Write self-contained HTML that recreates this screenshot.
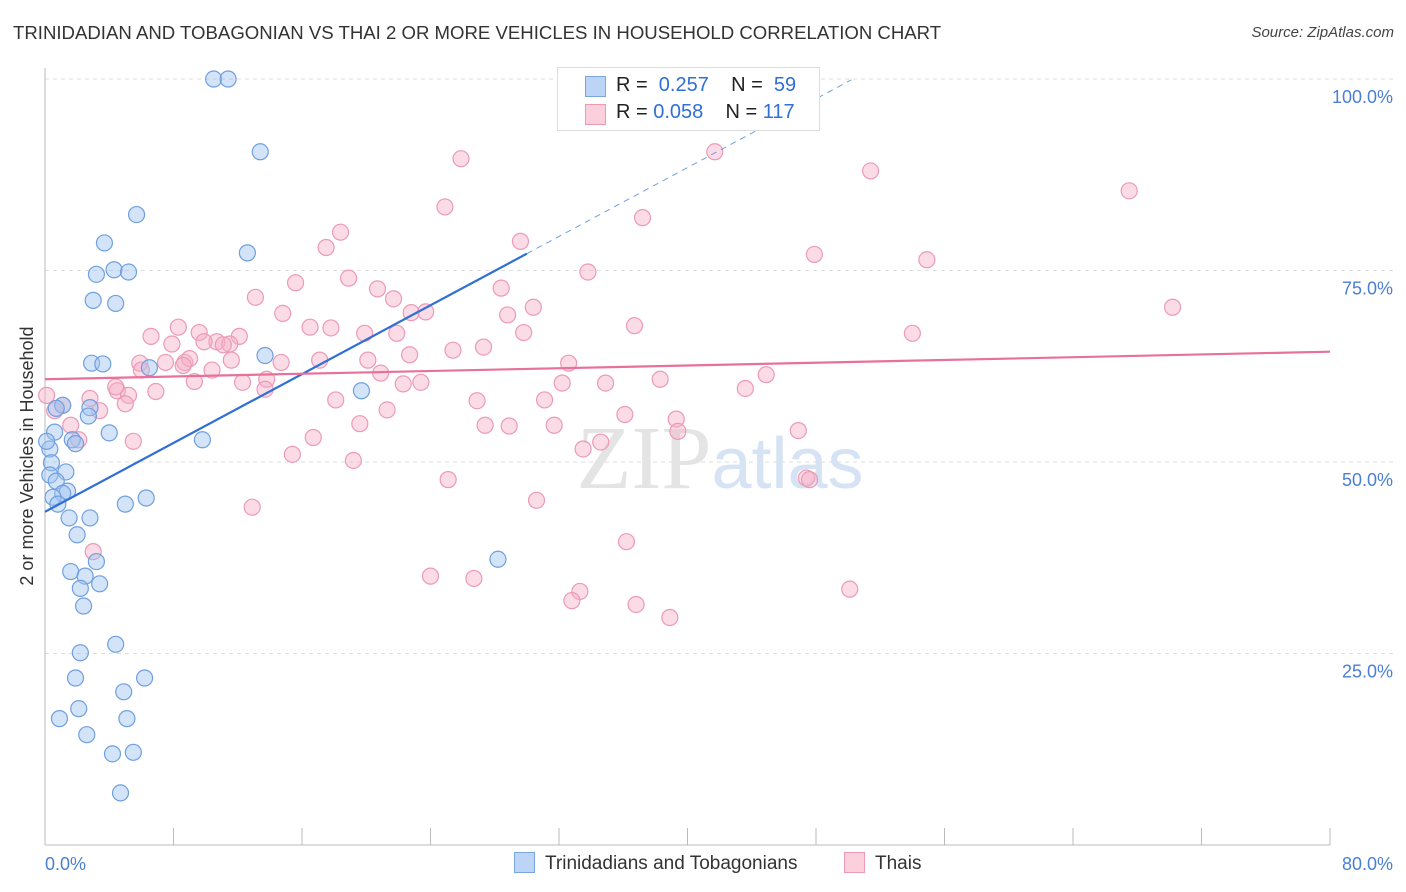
<!DOCTYPE html>
<html><head><meta charset="utf-8"><style>
body{margin:0;background:#fff;font-family:"Liberation Sans",sans-serif;}
#wrap{position:relative;width:1406px;height:892px;overflow:hidden;}
.t{position:absolute;white-space:nowrap;}
</style></head><body>
<div id="wrap">
<div class="t" style="left:13px;top:22px;font-size:18.6px;color:#333;">TRINIDADIAN AND TOBAGONIAN VS THAI 2 OR MORE VEHICLES IN HOUSEHOLD CORRELATION CHART</div>
<div class="t" style="right:12px;top:24px;font-size:15px;color:#444;font-style:italic;">Source: ZipAtlas.com</div>
<svg id="svg" width="1406" height="892" style="position:absolute;left:0;top:0"></svg>
</div>
<script>
const blueX=[10.5,11.4,13.4,5.7,12.6,3.7,4.3,5.2,3.2,3.0,4.4,13.7,2.9,3.6,6.5,19.7,2.8,1.1,0.7,2.7,4.0,0.6,1.7,1.9,9.8,0.3,0.4,1.3,0.3,0.7,1.4,1.1,0.5,6.3,5.0,0.8,1.5,2.8,2.0,28.2,3.2,1.6,2.5,3.4,2.2,2.4,4.4,2.2,1.9,6.2,4.9,2.1,0.9,5.1,2.6,4.2,5.5,4.7,0.1];
const blueY=[100,100,90.5,82.3,77.3,78.6,75.1,74.8,74.5,71.1,70.7,63.9,62.9,62.8,62.3,59.3,57.1,57.4,57.0,56.0,53.8,53.9,52.9,52.4,52.9,51.7,49.9,48.7,48.3,47.5,46.2,45.9,45.4,45.3,44.5,44.5,42.7,42.7,40.5,37.3,37.0,35.7,35.1,34.1,33.5,31.2,26.2,25.1,21.8,21.8,20.0,17.8,16.5,16.5,14.4,11.9,12.1,6.8,52.7];
const pinkX=[0.1,0.6,1.1,2.8,3.4,4.5,5.2,5.0,1.6,2.1,5.5,3.0,25.9,41.7,51.4,67.5,24.9,37.2,29.6,18.4,17.5,47.9,54.9,33.8,18.9,15.6,20.7,13.1,21.7,28.4,30.4,14.8,22.8,23.7,70.2,16.5,17.8,8.3,6.6,9.6,12.1,19.9,21.9,29.8,28.8,36.7,54.0,7.9,10.7,11.5,9.9,11.1,25.4,27.3,22.7,7.5,8.7,11.6,9.0,14.7,17.1,5.9,8.6,6.0,10.4,20.1,32.6,20.9,44.9,12.3,9.3,22.3,23.4,32.2,34.9,38.3,43.6,13.8,13.7,6.9,4.4,18.1,26.9,31.1,21.3,36.1,39.3,39.4,19.6,27.4,28.9,31.7,16.7,34.6,46.9,33.5,15.4,19.2,25.1,47.4,47.6,30.6,12.9,36.2,24.0,26.7,33.3,32.8,36.8,38.9,50.1];
const pinkY=[58.7,56.7,57.4,58.3,56.7,59.3,58.7,57.6,54.8,52.9,52.7,38.3,89.6,90.5,88.0,85.4,83.3,81.9,78.8,80.0,78.0,77.1,76.4,74.8,74.0,73.4,72.6,71.5,71.3,72.7,70.2,69.4,69.5,69.6,70.2,67.6,67.5,67.6,66.4,66.9,66.4,66.8,66.8,66.9,69.2,67.8,66.8,65.4,65.7,65.4,65.7,65.3,64.6,65.0,64.0,63.0,63.0,63.3,63.5,63.0,63.3,62.9,62.6,62.0,62.0,63.3,62.9,61.6,61.4,60.4,60.5,60.2,60.4,60.3,60.3,60.8,59.6,60.8,59.5,59.2,59.8,58.1,58.0,58.1,56.8,56.2,55.6,54.0,55.0,54.8,54.7,54.8,53.2,52.6,54.1,51.7,51.0,50.2,47.7,47.9,47.7,45.0,44.1,39.6,35.1,34.8,33.1,31.9,31.4,29.7,33.4];
const blueLine=[43.5,77.2], pinkLine=[60.8,64.4];
const yTicks=[25,50,75,100];
const xTicks=[0,8,16,24,32,40,48,56,64,72,80];
const NS='http://www.w3.org/2000/svg';
const svg=document.getElementById('svg');
const X=v=>45+v*16.0625, Y=v=>845-v*7.66;
function mk(t,a){const e=document.createElementNS(NS,t);for(const k in a)e.setAttribute(k,a[k]);svg.appendChild(e);return e;}
yTicks.forEach(v=>{const l=mk('line',{x1:45,x2:1393,y1:Y(v),y2:Y(v),stroke:'#ddd','stroke-dasharray':'4,4'});


const t=mk('text',{x:1393,y:Y(v)+24,'text-anchor':'end','font-size':18,fill:'#4a7fd4','font-family':'Liberation Sans'});t.textContent=v.toFixed(1)+'%';

});
mk('line',{x1:45,x2:45,y1:68,y2:845,stroke:'#bbb'});
mk('line',{x1:45,x2:1330,y1:845,y2:845,stroke:'#bbb'});
xTicks.forEach(v=>{const l=mk('line',{x1:X(v),x2:X(v),y1:828,y2:845,stroke:'#bbb'});

});
[[0,'0.0%',45,'start'],[80,'80.0%',1393,'end']].forEach(a=>{const t=mk('text',{x:a[2],y:870,'text-anchor':a[3],'font-size':18,fill:'#4a7fd4','font-family':'Liberation Sans'});t.textContent=a[1];

});
const wm=mk('text',{x:720,y:488,'text-anchor':'middle','font-size':90,fill:'#e4e4e4','font-family':'Liberation Serif'});
wm.innerHTML='ZIP<tspan fill="#d5e3f5" font-family="Liberation Sans" font-size="72">atlas</tspan>';


pinkX.forEach((x,i)=>{const c=mk('circle',{cx:X(x),cy:Y(pinkY[i]),r:8,fill:'rgba(245,175,200,0.45)',stroke:'#ec9ab6','stroke-width':1.2});

});
blueX.forEach((x,i)=>{const c=mk('circle',{cx:X(x),cy:Y(blueY[i]),r:8,fill:'rgba(160,195,240,0.45)',stroke:'#6f9fe0','stroke-width':1.2});

});
const bl=mk('line',{x1:X(0),y1:Y(blueLine[0]),x2:X(30),y2:Y(blueLine[1]),stroke:'#2f6fd6','stroke-width':2.2});


const slope=(blueLine[1]-blueLine[0])/30;
const bd=mk('line',{x1:X(30),y1:Y(blueLine[1]),x2:X(50.2),y2:Y(blueLine[0]+slope*50.2),stroke:'#6f9fe0','stroke-width':1,'stroke-dasharray':'6,5'});


const pl=mk('line',{x1:X(0),y1:Y(pinkLine[0]),x2:X(80),y2:Y(pinkLine[1]),stroke:'#e8709a','stroke-width':2.2});


const yl=mk('text',{x:0,y:0,transform:'translate(33,456) rotate(-90)','text-anchor':'middle','font-size':18,fill:'#333','font-family':'Liberation Sans'});yl.textContent='2 or more Vehicles in Household';


</script>
<div class="t" style="left:557px;top:67px;width:261px;height:62px;border:1px solid #ddd;background:#fff;font-size:20px;color:#222;">
<div style="position:absolute;left:27px;top:8px;width:19px;height:19px;background:#bcd4f5;border:1px solid #7aa6e0"></div>
<div style="position:absolute;left:58px;top:6px">R = &nbsp;<span style="color:#2f6fd6">0.257</span>&nbsp;&nbsp;&nbsp; N = &nbsp;<span style="color:#2f6fd6">59</span></div>
<div style="position:absolute;left:27px;top:36px;width:19px;height:19px;background:#fbcfdc;border:1px solid #ec9ab6"></div>
<div style="position:absolute;left:58px;top:33px">R = <span style="color:#2f6fd6">0.058</span>&nbsp;&nbsp;&nbsp; N = <span style="color:#2f6fd6">117</span></div>
</div>
<div class="t" style="left:514px;top:852px;font-size:19px;color:#333;"><span style="display:inline-block;width:19px;height:19px;background:#bcd4f5;border:1px solid #7aa6e0;vertical-align:-4px;margin-right:10px"></span>Trinidadians and Tobagonians</div>
<div class="t" style="left:844px;top:852px;font-size:19px;color:#333;"><span style="display:inline-block;width:19px;height:19px;background:#fbcfdc;border:1px solid #ec9ab6;vertical-align:-4px;margin-right:10px"></span>Thais</div>
</body></html>
